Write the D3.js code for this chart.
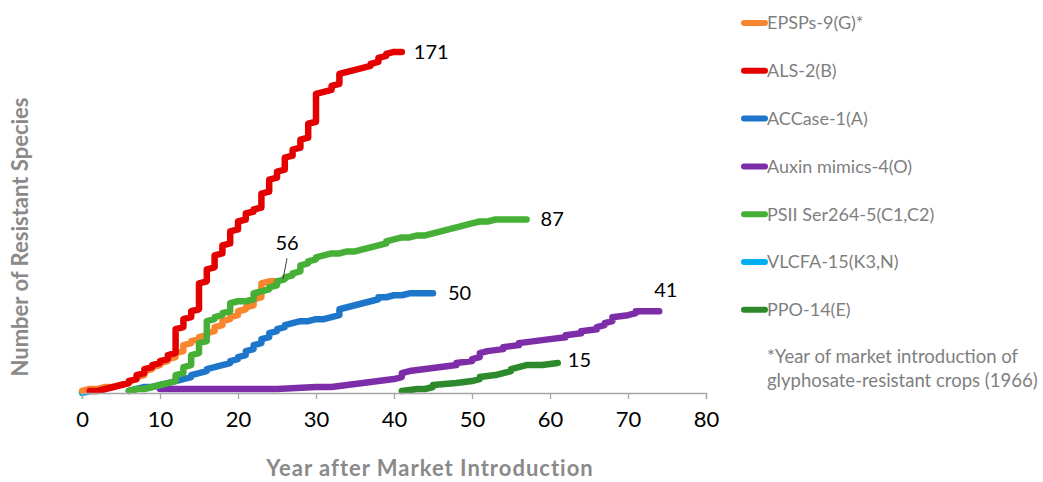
<!DOCTYPE html>
<html>
<head>
<meta charset="utf-8">
<script src="https://cdn.jsdelivr.net/npm/d3@7"></script>
<style>
  html, body { margin: 0; padding: 0; background: #fff; }
  svg { display: block; font-family: Lato, "Open Sans", sans-serif; }
</style>
</head>
<body>
<svg id="chart" width="1043" height="482"></svg>
<script>
// Cumulative number of resistant weed species by year after market introduction
const alsYears    = [1,2,3,4,5,6,7,8,9,10,11,12,13,14,15,16,17,18,19,20,21,22,23,24,25,26,27,28,29,30,31,32,33,34,35,36,37,38,39,40,41];
const alsCounts   = [1,1,2,3,4,6,9,12,14,16,19,32,37,41,55,62,69,74,81,86,90,92,100,107,111,118,122,127,135,150,151,154,160,161,162,163,165,168,170,171,171];

const epspsYears  = [0,1,2,3,4,5,6,7,8,9,10,11,12,13,14,15,16,17,18,19,20,21,22,23,24,25];
const epspsCounts = [1,2,2,3,3,4,6,8,11,13,15,17,20,24,26,28,30,33,36,38,41,43,47,55,56,56];

const accYears    = [6,7,8,9,10,11,12,13,14,15,16,17,18,19,20,21,22,23,24,25,26,27,28,29,30,31,32,33,34,35,36,37,38,39,40,41,42,43,44,45];
const accCounts   = [1,2,3,3,4,5,6,7,9,10,12,13,14,16,18,21,24,27,30,32,34,35,36,36,37,37,38,42,43,44,45,46,48,48,49,49,50,50,50,50];

const auxYears    = [10,15,20,25,30,32,34,36,38,40,41,42,44,46,48,50,51,52,54,56,58,60,62,64,66,67,68,70,71,72,73,74];
const auxCounts   = [2,2,2,2,3,3,4,5,6,7,10,11,12,13,15,17,20,21,23,25,26,27,29,31,33,35,38,39,41,41,41,41];

const psiiYears   = [6,7,8,9,10,11,12,13,14,15,16,17,18,19,20,21,22,23,24,25,26,27,28,29,30,31,32,33,34,35,36,37,38,39,40,41,42,43,44,45,46,47,48,49,50,51,52,53,54,55,56,57];
const psiiCounts  = [1,2,2,3,4,5,9,13,19,25,36,38,40,45,46,46,50,51,53,56,58,60,64,66,68,69,70,70,71,71,72,73,74,76,77,78,78,79,79,80,81,82,83,84,85,86,86,87,87,87,87,87];

const vlcfaYears  = [0,1];
const vlcfaCounts = [0,1];

const ppoYears    = [41,43,44,45,48,50,51,53,54,55,56,57,59,61];
const ppoCounts   = [1,2,2,4,5,6,8,9,10,12,13,14,14,15];

// Legend order and colours
const seriesNames  = ["EPSPs-9(G)*", "ALS-2(B)", "ACCase-1(A)", "Auxin mimics-4(O)", "PSII Ser264-5(C1,C2)", "VLCFA-15(K3,N)", "PPO-14(E)"];
const seriesColors = ["#F7862F", "#E50000", "#1E76CB", "#7E2DA8", "#46B036", "#00B0F0", "#2C8A2C"];

// End-of-line value labels
const endLabels = ["56", "171", "50", "41", "87", "", "15"];

const xTicks = [0,10,20,30,40,50,60,70,80];
const footnote = ["*Year of market introduction of", "glyphosate-resistant crops (1966)"];

const series = [
  {name: seriesNames[0], color: seriesColors[0], years: epspsYears, counts: epspsCounts, label: endLabels[0]},
  {name: seriesNames[1], color: seriesColors[1], years: alsYears,   counts: alsCounts,   label: endLabels[1]},
  {name: seriesNames[2], color: seriesColors[2], years: accYears,   counts: accCounts,   label: endLabels[2]},
  {name: seriesNames[3], color: seriesColors[3], years: auxYears,   counts: auxCounts,   label: endLabels[3]},
  {name: seriesNames[4], color: seriesColors[4], years: psiiYears,  counts: psiiCounts,  label: endLabels[4]},
  {name: seriesNames[5], color: seriesColors[5], years: vlcfaYears, counts: vlcfaCounts, label: endLabels[5]},
  {name: seriesNames[6], color: seriesColors[6], years: ppoYears,   counts: ppoCounts,   label: endLabels[6]}
];

const svg = d3.select("#chart");
const plot = {left: 82, right: 706, bottom: 393, top: 34};

const x = d3.scaleLinear().domain([0, 80]).range([plot.left, plot.right]);
const y = d3.scaleLinear().domain([0, 180]).range([plot.bottom, plot.top]);

// Each new species in a year is a separate record: the curve climbs vertically
// within a year and rises by one record from one year to the next.
function stepPoints(s) {
  const pts = [];
  s.years.forEach((yr, i) => {
    const c = s.counts[i];
    if (i === 0) { pts.push([yr, c]); return; }
    const prev = s.counts[i - 1];
    const first = Math.min(prev + 1, c);
    pts.push([yr, first]);
    if (first !== c) pts.push([yr, c]);
  });
  return pts;
}

const line = d3.line().x(d => x(d[0])).y(d => y(d[1]));

// Draw order (bottom to top)
const drawOrder = [5, 6, 3, 2, 0, 4, 1];
const gLines = svg.append("g");
drawOrder.forEach(i => {
  const s = series[i];
  gLines.append("path")
    .attr("d", line(stepPoints(s)))
    .attr("fill", "none")
    .attr("stroke", s.color)
    .attr("stroke-width", 6.5)
    .attr("stroke-linejoin", "round")
    .attr("stroke-linecap", "round");
});

// X axis
const xAxis = d3.axisBottom(x).tickValues(xTicks).tickSize(6).tickPadding(12).tickFormat(d3.format("d"));
const gx = svg.append("g").attr("transform", `translate(0,${plot.bottom})`).call(xAxis);
gx.select(".domain").attr("stroke", "#A6A6A6").attr("stroke-width", 1.3);
gx.selectAll(".tick line").attr("stroke", "#A6A6A6").attr("stroke-width", 1.3);
gx.selectAll(".tick text")
  .attr("fill", "#000")
  .style("font-family", "Lato, sans-serif")
  .style("font-size", "22px");

// Axis titles
svg.append("text")
  .attr("x", 430).attr("y", 476)
  .attr("text-anchor", "middle")
  .attr("fill", "#8A8A8A")
  .style("font-weight", "bold")
  .style("font-size", "22px")
  .style("letter-spacing", "1px")
  .text("Year after Market Introduction");

svg.append("text")
  .attr("transform", `translate(28,${237}) rotate(-90)`)
  .attr("text-anchor", "middle")
  .attr("fill", "#8A8A8A")
  .style("font-weight", "bold")
  .style("font-size", "22px")
  .text("Number of Resistant Species");

// End-of-line value labels
const labelPos = {
  "171": {dx: 12, dy: 0},
  "87":  {dx: 14, dy: 0},
  "50":  {dx: 15, dy: 0},
  "15":  {dx: 10, dy: -3},
  "41":  {dx: -5, dy: -21}
};
series.forEach(s => {
  if (!s.label || s.label === "56") return;
  const n = s.years.length - 1;
  const p = labelPos[s.label];
  svg.append("text")
    .attr("x", x(s.years[n]) + p.dx)
    .attr("y", y(s.counts[n]) + p.dy)
    .attr("dy", "0.35em")
    .attr("fill", "#000")
    .style("font-size", "20px")
    .text(s.label);
});

// Callout for the EPSPs series
{
  const s = series[0];
  const n = s.years.length - 1;
  const ex = x(s.years[n]), ey = y(s.counts[n]);
  svg.append("line")
    .attr("x1", ex + 6).attr("y1", ey - 2)
    .attr("x2", ex + 10).attr("y2", ey - 23)
    .attr("stroke", "#404040").attr("stroke-width", 1);
  svg.append("text")
    .attr("x", ex + 10).attr("y", ey - 38)
    .attr("dy", "0.35em")
    .attr("text-anchor", "middle")
    .attr("fill", "#000")
    .style("font-size", "20px")
    .text(s.label);
}

// Legend
const legend = svg.append("g").attr("transform", "translate(742,23)");
series.forEach((s, i) => {
  const g = legend.append("g").attr("transform", `translate(0,${i * 47.8})`);
  g.append("line")
    .attr("x1", 2).attr("x2", 23).attr("y1", 0).attr("y2", 0)
    .attr("stroke", s.color).attr("stroke-width", 6).attr("stroke-linecap", "round");
  g.append("text")
    .attr("x", 25).attr("y", 0).attr("dy", "0.35em")
    .attr("fill", "#7F7F7F")
    .style("font-size", "18px")
    .text(s.name);
});

// Footnote
footnote.forEach((t, i) => {
  svg.append("text")
    .attr("x", 767).attr("y", 357 + i * 24).attr("dy", "0.35em")
    .attr("fill", "#7F7F7F")
    .style("font-size", "18.5px")
    .text(t);
});
</script>
</body>
</html>
